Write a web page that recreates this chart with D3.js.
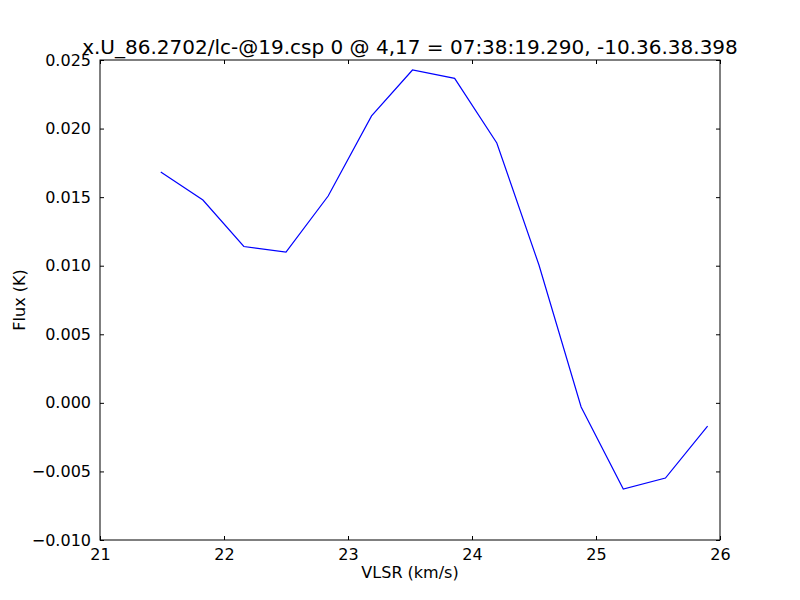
<!DOCTYPE html>
<html><head><meta charset="utf-8">
<script src="https://cdn.jsdelivr.net/npm/d3@7"></script>
<style>body{margin:0;background:#fff}svg{display:block}text{font-family:"DejaVu Sans",sans-serif}</style>
</head><body>
<svg id="c" width="800" height="600"></svg>
<script>
const velocity = [21.49, 21.83, 22.16, 22.50, 22.84, 23.19, 23.52, 23.86, 24.20, 24.54, 24.88, 25.22, 25.56, 25.90];
const flux = [0.01683, 0.01479, 0.01140, 0.01100, 0.01508, 0.02092, 0.02427, 0.02366, 0.01895, 0.01005, -0.00030, -0.00628, -0.00548, -0.00170];
const xTicks = [21, 22, 23, 24, 25, 26];
const yTicks = [-0.010, -0.005, 0.000, 0.005, 0.010, 0.015, 0.020, 0.025];
const chartTitle = "x.U_86.2702/lc-@19.csp 0 @ 4,17 = 07:38:19.290, -10.36.38.398";

(function () {
const svg = d3.select("#c");
const L = 100, R = 720, T = 60, B = 540;
const x = d3.scaleLinear().domain([21, 26]).range([L, R]);
const y = d3.scaleLinear().domain([-0.010, 0.025]).range([B, T]);
const fmtY = v => (v < 0 ? "\u2212" : "") + Math.abs(v).toFixed(3);

const line = d3.line().x((d, i) => x(velocity[i])).y(d => y(d));
svg.append("path").datum(flux).attr("d", line)
  .attr("fill", "none").attr("stroke", "#0000ff").attr("stroke-width", 1.2);

const g = svg.append("g");
const axB = g.append("g").attr("transform", `translate(0,${B})`)
  .call(d3.axisBottom(x).tickValues(xTicks).tickSize(-4).tickPadding(9).tickFormat(d3.format("d")));
const axT = g.append("g").attr("transform", `translate(0,${T})`)
  .call(d3.axisTop(x).tickValues(xTicks).tickSize(-4).tickFormat(""));
const axL = g.append("g").attr("transform", `translate(${L},0)`)
  .call(d3.axisLeft(y).tickValues(yTicks).tickSize(-4).tickPadding(9).tickFormat(fmtY));
const axR = g.append("g").attr("transform", `translate(${R},0)`)
  .call(d3.axisRight(y).tickValues(yTicks).tickSize(-4).tickFormat(""));
[axB, axT, axL, axR].forEach(a => {
  a.select(".domain").remove();
  a.selectAll("line").attr("stroke", "#000").attr("stroke-width", 1);
  a.selectAll("text").attr("font-size", 16).attr("fill", "#000").attr("font-family", "DejaVu Sans");
});
svg.append("rect").attr("x", L).attr("y", T).attr("width", R - L).attr("height", B - T)
  .attr("fill", "none").attr("stroke", "#000").attr("stroke-width", 1);

svg.append("text").attr("x", (L + R) / 2).attr("y", 54).attr("text-anchor", "middle")
  .attr("font-size", 20).text(chartTitle);
svg.append("text").attr("x", (L + R) / 2).attr("y", 578).attr("text-anchor", "middle")
  .attr("font-size", 16).text("VLSR (km/s)");
svg.append("text").attr("transform", `translate(25,${(T + B) / 2}) rotate(-90)`)
  .attr("text-anchor", "middle").attr("font-size", 16).text("Flux (K)");
})();
</script>
</body></html>
